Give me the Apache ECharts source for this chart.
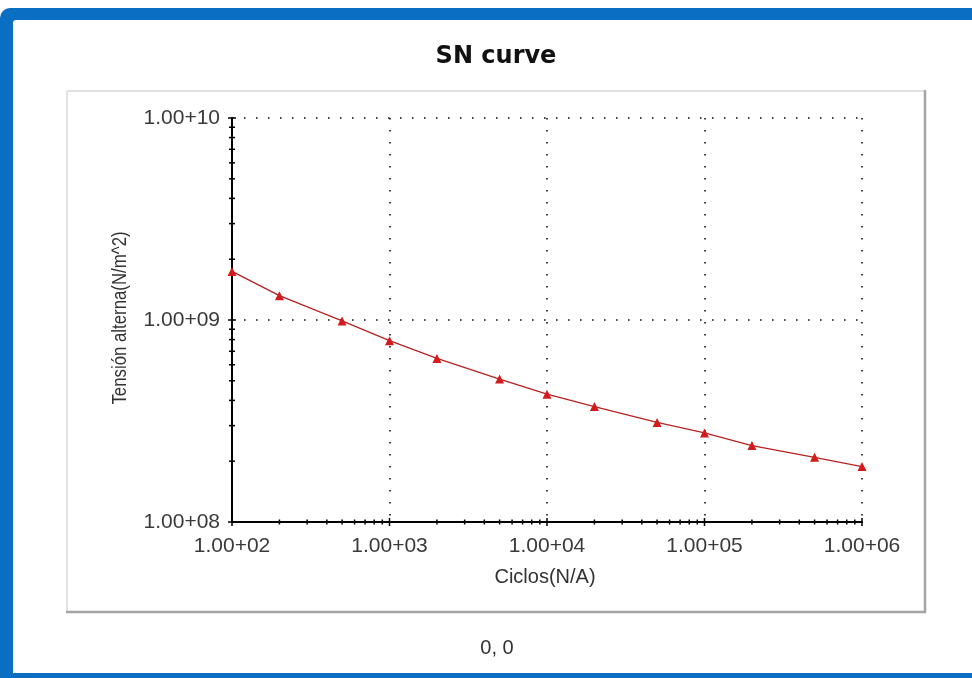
<!DOCTYPE html>
<html>
<head>
<meta charset="utf-8">
<script src="https://cdn.jsdelivr.net/npm/echarts@6/dist/echarts.min.js"></script>
<style>
html,body{margin:0;padding:0;background:#fff;}
#chart{width:972px;height:678px;}
</style>
</head>
<body>
<div id="chart"></div>
<script>
// ---- data ----
const cycles = [100, 200, 500, 1000, 2000, 5000, 10000, 20000, 50000, 100000, 200000, 500000, 1000000];
const stress = [1.74e9, 1.32e9, 9.9e8, 7.9e8, 6.45e8, 5.1e8, 4.29e8, 3.73e8, 3.11e8, 2.76e8, 2.39e8, 2.09e8, 1.88e8];
const xTickValues = [100, 1000, 10000, 100000, 1000000];
const xTickLabels = ['1.00+02', '1.00+03', '1.00+04', '1.00+05', '1.00+06'];
const yTickValues = [1e8, 1e9, 1e10];
const yTickLabels = ['1.00+08', '1.00+09', '1.00+10'];
const minorMultipliers = [2, 3, 4, 5, 6, 7, 8, 9];
const titleText = 'SN curve';
const xAxisTitle = 'Ciclos(N/A)';
const yAxisTitle = 'Tensión alterna(N/m^2)';
const statusText = '0, 0';

function labelFor(values, labels) {
  return function (v) {
    for (let i = 0; i < values.length; i++) {
      if (Math.abs(Math.log10(v) - Math.log10(values[i])) < 1e-6) return labels[i];
    }
    return '';
  };
}

// tick marks (major + minor) built from the tick arrays
const xTicks = [];
xTickValues.forEach((d, i) => {
  xTicks.push([d, yTickValues[0], 4]);
  if (i < xTickValues.length - 1) minorMultipliers.forEach(m => xTicks.push([d * m, yTickValues[0], 2.5]));
});
const yTicks = [];
yTickValues.forEach((d, i) => {
  yTicks.push([xTickValues[0], d, 4]);
  if (i < yTickValues.length - 1) minorMultipliers.forEach(m => yTicks.push([xTickValues[0], d * m, 3]));
});

const chart = echarts.init(document.getElementById('chart'), null, {renderer: 'canvas'});
const BLUE = '#0a6fc2';
const FONT = '"Liberation Sans", Arial, sans-serif';

const option = {
  animation: false,
  backgroundColor: '#ffffff',
  graphic: [
    {type: 'rect', z: -10, silent: true, shape: {x: 0, y: 8, width: 1000, height: 680, r: [10, 0, 0, 0]}, style: {fill: BLUE}},
    {type: 'rect', z: -9, silent: true, shape: {x: 13, y: 20, width: 1000, height: 653, r: [3, 0, 0, 0]}, style: {fill: '#ffffff'}},
    {type: 'line', z: -8, silent: true, shape: {x1: 67, y1: 91, x2: 925, y2: 91}, style: {stroke: '#e2e2e2', lineWidth: 2}},
    {type: 'line', z: -8, silent: true, shape: {x1: 67, y1: 91, x2: 67, y2: 612}, style: {stroke: '#e2e2e2', lineWidth: 2}},
    {type: 'line', z: -8, silent: true, shape: {x1: 925, y1: 90, x2: 925, y2: 613}, style: {stroke: '#a4a4a4', lineWidth: 2.5}},
    {type: 'line', z: -8, silent: true, shape: {x1: 66, y1: 612, x2: 926, y2: 612}, style: {stroke: '#a4a4a4', lineWidth: 2.5}},
    {type: 'text', silent: true, x: 496, y: 57, style: {text: titleText, font: 'bold 24px "DejaVu Sans", sans-serif', fill: '#111', align: 'center', verticalAlign: 'middle'}},
    {type: 'text', silent: true, x: 545, y: 577, style: {text: xAxisTitle, font: '20px ' + FONT, fill: '#333', align: 'center', verticalAlign: 'middle'}},
    {type: 'text', silent: true, x: 120, y: 318, rotation: Math.PI / 2, scaleX: 0.84, style: {text: yAxisTitle, font: '20px ' + FONT, fill: '#333', align: 'center', verticalAlign: 'middle'}},
    {type: 'text', silent: true, x: 497, y: 648, style: {text: statusText, font: '20px ' + FONT, fill: '#333', align: 'center', verticalAlign: 'middle'}}
  ],
  grid: {left: 232, right: 110, top: 118, bottom: 156, containLabel: false},
  xAxis: {
    type: 'log', logBase: 10, min: xTickValues[0], max: xTickValues[xTickValues.length - 1],
    axisLine: {show: true, lineStyle: {color: '#000', width: 2}},
    axisTick: {show: false},
    minorTick: {show: false},
    axisLabel: {show: true, margin: 14, formatter: labelFor(xTickValues, xTickLabels), color: '#3a3a3a', fontSize: 21, fontFamily: FONT},
    splitLine: {show: true, lineStyle: {color: '#111', width: 1.6, type: [1.6, 10.4]}}
  },
  yAxis: {
    type: 'log', logBase: 10, min: yTickValues[0], max: yTickValues[yTickValues.length - 1],
    axisLine: {show: true, onZero: false, lineStyle: {color: '#000', width: 2}},
    axisTick: {show: false},
    minorTick: {show: false},
    axisLabel: {show: true, margin: 12, formatter: labelFor(yTickValues, yTickLabels), color: '#3a3a3a', fontSize: 21, fontFamily: FONT},
    splitLine: {show: true, lineStyle: {color: '#111', width: 1.6, type: [1.6, 10.4]}}
  },
  series: [
    {
      type: 'line', name: 'SN', z: 5,
      data: cycles.map((c, i) => [c, stress[i]]),
      symbol: 'triangle', symbolSize: 9,
      itemStyle: {color: '#d41a1a'},
      lineStyle: {color: '#b52222', width: 1.3}
    },
    {
      type: 'custom', z: 6, silent: true, clip: false,
      data: xTicks,
      renderItem: function (params, api) {
        const p = api.coord([api.value(0), api.value(1)]);
        const L = api.value(2);
        return {type: 'line', shape: {x1: p[0], y1: p[1] - L, x2: p[0], y2: p[1] + L}, style: {stroke: '#000', lineWidth: 1.5}};
      }
    },
    {
      type: 'custom', z: 6, silent: true, clip: false,
      data: yTicks,
      renderItem: function (params, api) {
        const p = api.coord([api.value(0), api.value(1)]);
        const L = api.value(2);
        return {type: 'line', shape: {x1: p[0] - L, y1: p[1], x2: p[0] + L, y2: p[1]}, style: {stroke: '#000', lineWidth: 1.5}};
      }
    }
  ]
};
chart.setOption(option);
</script>
</body>
</html>
